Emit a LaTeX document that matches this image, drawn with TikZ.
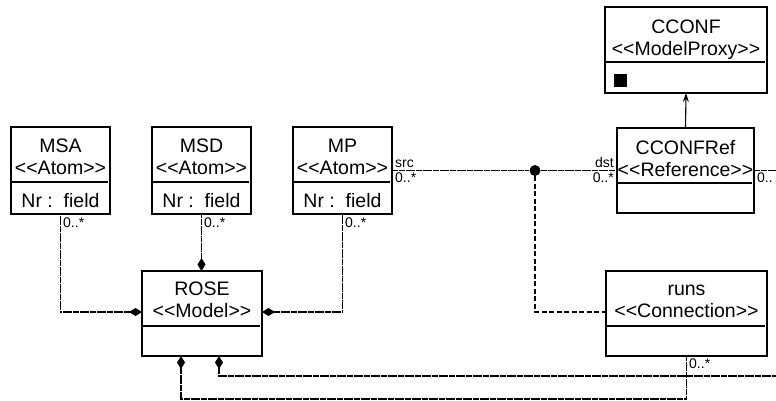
\documentclass[tikz,border=0pt]{standalone}
\usepackage{fontspec}
\setmainfont{Liberation Sans}
\usetikzlibrary{arrows.meta}
\newcommand\stereo[1]{<\kern0pt<#1>\kern0pt>}
\begin{document}
\begin{tikzpicture}[x=1pt,y=-1pt,
  box/.style={draw, line width=1.2pt, inner sep=0pt, outer sep=0pt, anchor=north west},
  big/.style={font=\fontsize{19.5}{22}\selectfont, inner sep=0pt, anchor=base},
  small/.style={font=\fontsize{14}{16}\selectfont, inner sep=0pt},
  sepline/.style={line width=1.2pt},
  conn/.style={line width=1.3pt, dash pattern=on 3pt off 0.4pt},
  runsline/.style={line width=1.1pt, dash pattern=on 5pt off 2.5pt},
  dmd/.style={{Diamond[length=13pt,width=8pt]}-},
  ]
\useasboundingbox (0,0) rectangle (776,400);
\clip (0,0) rectangle (776,400);
% CCONF
\node[box, minimum width=162pt, minimum height=86pt] (cconf) at (605,7) {};
\node[big] (cconfT) at (686,33) {CCONF};
\node[big] (cconfS) at (686,55) {\stereo{ModelProxy}};
\draw[sepline] (605,62) -- (765,62);
\node[fill, minimum size=13pt, inner sep=0pt, anchor=north west] (sq) at (614,74) {};
% CCONFRef
\node[box, minimum width=137pt, minimum height=85pt] (ccref) at (617,128) {};
\node[big] (ccrefT) at (685.5,154) {CCONFRef};
\node[big] (ccrefS) at (685.5,176) {\stereo{Reference}};
\draw[sepline] (617,183) -- (752,183);
% MSA
\node[box, minimum width=99pt, minimum height=87pt] (msa) at (11,127) {};
\node[big] (msaT) at (60.5,152) {MSA};
\node[big] (msaS) at (60.5,174) {\stereo{Atom}};
\draw[sepline] (11,182) -- (108,182);
\node[big] (msaF) at (60.5,207) {Nr :~~field};
% MSD
\node[box, minimum width=99pt, minimum height=87pt] (msd) at (152,127) {};
\node[big] (msdT) at (201.5,152) {MSD};
\node[big] (msdS) at (201.5,174) {\stereo{Atom}};
\draw[sepline] (152,182) -- (249,182);
\node[big] (msdF) at (201.5,207) {Nr :~~field};
% MP
\node[box, minimum width=99pt, minimum height=87pt] (mp) at (293,127) {};
\node[big] (mpT) at (342.5,152) {MP};
\node[big] (mpS) at (342.5,174) {\stereo{Atom}};
\draw[sepline] (293,182) -- (390,182);
\node[big] (mpF) at (342.5,207) {Nr :~~field};
% ROSE
\node[box, minimum width=120pt, minimum height=85pt] (rose) at (142,271) {};
\node[big] (roseT) at (202,295) {ROSE};
\node[big] (roseS) at (202,317) {\stereo{Model}};
\draw[sepline] (142,326) -- (260,326);
% runs
\node[box, minimum width=161pt, minimum height=85pt] (runs) at (606,271) {};
\node[big] (runsT) at (686.5,295) {runs};
\node[big] (runsS) at (686.5,317) {\stereo{Connection}};
\draw[sepline] (606,326) -- (765,326);
% junction dot
\node[circle, fill, inner sep=0pt, minimum size=11pt] (dot) at (535,170.5) {};
\coordinate (offA) at (790,170.5);
\coordinate (offB) at (790,376);
% connectors
\draw[-{Stealth[length=9pt,width=6pt]}, line width=1.1pt] (ccref.north) -- (cconf.south);
\draw[conn] (mp.east) -- (dot) -- (ccref.west);
\draw[conn] (ccref.east) -- (offA);
\draw[runsline] (dot) |- ([yshift=1.5pt]runs.west);
\draw[conn, dmd] ([yshift=1.5pt]rose.west) -| (msa.south);
\draw[conn, dmd] (rose.north -| msd.south) -- (msd.south);
\draw[conn, dmd] ([yshift=1.5pt]rose.east) -| (mp.south);
\draw[conn, dmd] ([xshift=-21pt]rose.south) -- ++(0,43) -| (runs.south);
\draw[conn, dmd] ([xshift=17pt]rose.south) |- (offB);
% labels
\node[small, anchor=north west] (l1) at (63,218) {0..*};
\node[small, anchor=north west] (l2) at (204,218) {0..*};
\node[small, anchor=north west] (l3) at (345,218) {0..*};
\node[small, anchor=south west] (l4) at (395,168) {src};
\node[small, anchor=north west] (l5) at (395,173) {0..*};
\node[small, anchor=south east] (l6) at (614,168) {dst};
\node[small, anchor=north east] (l7) at (614,173) {0..*};
\node[small, anchor=north west] (l8) at (757,173) {0..};
\node[small, anchor=north west] (l9) at (689,359) {0..*};
\end{tikzpicture}
\end{document}
